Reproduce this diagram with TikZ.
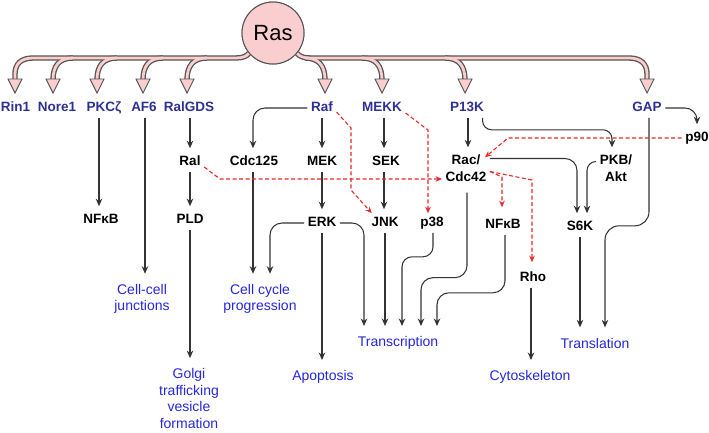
\documentclass[tikz,border=0pt]{standalone}
\usepackage{fontspec}
\setmainfont{Liberation Sans}
\usetikzlibrary{arrows.meta}
\definecolor{topblue}{RGB}{46,49,146}
\definecolor{outblue}{RGB}{38,38,220}
\definecolor{lineg}{RGB}{51,51,51}
\definecolor{trunkg}{RGB}{85,85,85}
\definecolor{redd}{RGB}{232,40,40}
\definecolor{pinkf}{RGB}{250,206,206}
\newcommand\rastrunk[1]{%
  \draw[#1] (15,80) -- (15,74) .. controls (15,64) and (21,58) .. (33,58) -- (236,58) .. controls (243,58) and (247,56) .. (Ras.220);
  \foreach \bx in {53,97,143,187}{\draw[#1] (\bx,80) .. controls (\bx,66) and (\bx+6,58) .. (\bx+20,58);}
  \draw[#1] (Ras.320) .. controls (299,56) and (303,58) .. (310,58) -- (629,58) .. controls (641,58) and (647,64) .. (647,74) -- (647,80);
  \foreach \bx in {325,382,465}{\draw[#1] (\bx-20,58) .. controls (\bx-6,58) and (\bx,66) .. (\bx,80);}
}
\begin{document}
\begin{tikzpicture}[x=1pt,y=-1pt,
  topl/.style={text=topblue, font=\fontsize{13.5}{17}\selectfont\bfseries, inner sep=3.5pt, text height=9.7pt, text depth=2.5pt},
  bl/.style={text=black, font=\fontsize{13.5}{17}\selectfont\bfseries, inner sep=3.5pt, text height=9.7pt, text depth=2.5pt},
  bltwo/.style={text=black, font=\fontsize{13.5}{17}\selectfont\bfseries, inner sep=3.5pt, align=center},
  outl/.style={text=outblue, font=\fontsize{14}{16.5}\selectfont, inner sep=3.5pt, outer sep=3pt, align=center},
  arr/.style={draw=lineg, line width=1.05pt, -{Stealth[length=7.5pt,width=6.5pt]}, shorten >=4pt},
  redarr/.style={draw=redd, line width=1.1pt, dash pattern=on 4pt off 2.5pt, -{Stealth[length=6.5pt,width=5.5pt]}},
  headtri/.style={fill=pinkf, draw=trunkg, line width=0.9pt, line join=miter}
]
\useasboundingbox (0,0) rectangle (709,432);
% Ras and trunk
\node[circle, draw=trunkg, fill=pinkf, line width=1pt, minimum size=62pt, inner sep=0pt, font=\fontsize{22}{24}\selectfont] (Ras) at (273,33) {};
\rastrunk{line width=5.4pt, trunkg}
\rastrunk{line width=2.8pt, pinkf}
\node[circle, draw=trunkg, fill=pinkf, line width=1pt, minimum size=62pt, inner sep=0pt, font=\fontsize{22}{24}\selectfont] at (273,33) {Ras};
\foreach \bx in {15,53,97,143,187,325,382,465,647}{\draw[headtri] (\bx-7,79) -- (\bx+7,79) -- (\bx,93) -- cycle;}
% top effectors
\node[topl] (Rin1) at (15.5,108) {Rin1};
\node[topl] (Nore1) at (57,108) {Nore1};
\node[topl] (PKC) at (104,108) {PKCζ};
\node[topl] (AF6) at (144,108) {AF6};
\node[topl] (RalGDS) at (189,108) {RalGDS};
\node[topl] (Raf) at (322,108) {Raf};
\node[topl] (MEKK) at (382,108) {MEKK};
\node[topl] (P13K) at (467,108) {P13K};
\node[topl] (GAP) at (647,108) {GAP};
% black intermediates
\node[bl] (Ral) at (190,162) {Ral};
\node[bl] (Cdc125) at (254,162) {Cdc125};
\node[bl] (MEK) at (322,162) {MEK};
\node[bl] (SEK) at (386,162) {SEK};
\node[bltwo] (Rac) at (466,168.5) {Rac/\\Cdc42};
\node[bltwo] (PKB) at (616,168.5) {PKB/\\Akt};
\node[bl] (p90) at (697,138) {p90};
\node[bl] (NFkB1) at (101,220) {NFκB};
\node[bl] (PLD) at (190,220) {PLD};
\node[bl] (ERK) at (322,223) {ERK};
\node[bl] (JNK) at (385,223) {JNK};
\node[bl] (p38) at (432,223) {p38};
\node[bl] (NFkB2) at (503,225) {NFκB};
\node[bl] (S6K) at (580,227) {S6K};
\node[bl] (Rho) at (533,278) {Rho};
% outcomes
\node[outl] (CCJ) at (142,299) {Cell-cell\\junctions};
\node[outl] (CCP) at (260,299) {Cell cycle\\progression};
\node[outl] (Golgi) at (189,398.5) {Golgi\\trafficking\\vesicle\\formation};
\node[outl] (Apop) at (323,377) {Apoptosis};
\node[outl] (Transc) at (398,343) {Transcription};
\node[outl] (Cyto) at (530,377) {Cytoskeleton};
\node[outl] (Transl) at (595,343) {Translation};
% black connectors
\draw[arr] ([xshift=-5pt]PKC.south) -- ([xshift=-2pt]NFkB1.north);
\draw[arr] ([xshift=1pt]AF6.south) -- ([xshift=1pt]AF6.south |- CCJ.north);
\draw[arr] (Ral.north |- RalGDS.south) -- (Ral.north);
\draw[arr] (Ral.south) -- (PLD.north);
\draw[arr] (PLD.south) -- (PLD.south |- Golgi.north);
\draw[arr, rounded corners=12pt] (Raf.west) -| ([xshift=-1pt]Cdc125.north);
\draw[arr] (MEK.north |- Raf.south) -- (MEK.north);
\draw[arr] (MEK.south) -- (ERK.north);
\draw[arr] ([xshift=-1pt]Cdc125.south) -- ([xshift=-1pt]Cdc125.south |- CCP.north);
\draw[arr, rounded corners=12pt] (ERK.west) -| ([xshift=10pt]CCP.north);
\draw[arr] (ERK.south) -- (ERK.south |- Apop.north);
\draw[arr, rounded corners=12pt] (ERK.east) -| ([xshift=-34pt]Transc.north);
\draw[arr] ([xshift=-2pt]SEK.north |- MEKK.south) -- ([xshift=-2pt]SEK.north);
\draw[arr] ([xshift=-2pt]SEK.south) -- ([xshift=-2pt]SEK.south |- JNK.north);
\draw[arr] (JNK.south) -- (JNK.south |- Transc.north);
\draw[arr, rounded corners=10pt] ([xshift=1pt]p38.south) -- ++(0,24) -| ([xshift=4pt]Transc.north);
\draw[arr, rounded corners=12pt] ([xshift=1pt,yshift=-7pt]Rac.south) -- ++(0,85) -| ([xshift=23pt]Transc.north);
\draw[arr, rounded corners=12pt] ([xshift=2pt]NFkB2.south) -- ++(0,58) -| ([xshift=39pt]Transc.north);
\draw[arr] ([xshift=1pt]P13K.south) -- ([xshift=2pt]Rac.north);
\draw[arr, rounded corners=9pt] ([xshift=-5pt]P13K.south east) -- ++(0,12) -| ([xshift=-4pt]PKB.north);
\draw[arr, rounded corners=12pt] (GAP.east) -| (p90.north);
\draw[arr, rounded corners=12pt] ([yshift=10pt]Rac.east) -| ([xshift=-3pt]S6K.north);
\draw[arr, rounded corners=9pt] ([yshift=7pt]PKB.west) -| ([xshift=7pt]S6K.north);
\draw[arr] (S6K.south) -- (S6K.south |- Transl.north);
\draw[arr, rounded corners=14pt] ([xshift=2pt]GAP.south) -- ++(0,108) -| ([xshift=10pt]Transl.north);
\draw[arr] ([xshift=-2pt]Rho.south) -- ([xshift=-2pt]Rho.south |- Cyto.north);
% red dashed connectors
\draw[redarr] ([yshift=-4pt]Raf.east) -- (351,128) -- (351,190) -- ([xshift=4pt]JNK.north west);
\draw[redarr] ([yshift=-5pt]MEKK.east) -- (428,130) -- ([xshift=-4pt]p38.north);
\draw[redarr] ([yshift=-5pt]Ral.east) -- (220,179) -- (Rac.west |- 220,179);
\draw[redarr] (p90.west) -- (508,138) -- ([xshift=-5pt,yshift=-6pt]Rac.north east);
\draw[redarr, shorten >=8pt] ([yshift=-3pt]Rac.east) -- (502,177) -- ([xshift=-1pt]NFkB2.north);
\draw[redarr, shorten >=6pt] ([yshift=-3pt]Rac.east) -- (532,180) -- ([xshift=-1pt]Rho.north);
\end{tikzpicture}
\end{document}
